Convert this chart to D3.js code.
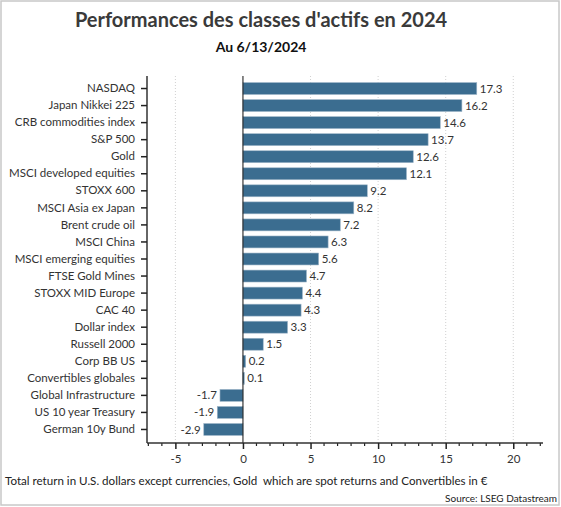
<!DOCTYPE html>
<html><head><meta charset="utf-8">
<script src="https://cdn.jsdelivr.net/npm/d3@7"></script>
<style>
body{margin:0;background:#fff;}
svg{display:block;font-family:Lato,"Open Sans",sans-serif;}
</style></head>
<body><svg id="c" width="561" height="507"></svg>
<script>
const categories = ["NASDAQ","Japan Nikkei 225","CRB commodities index","S&P 500","Gold","MSCI developed equities","STOXX 600","MSCI Asia ex Japan","Brent crude oil","MSCI China","MSCI emerging equities","FTSE Gold Mines","STOXX MID Europe","CAC 40","Dollar index","Russell 2000","Corp BB US","Convertibles globales","Global Infrastructure","US 10 year Treasury","German 10y Bund"];
const values = [17.3,16.2,14.6,13.7,12.6,12.1,9.2,8.2,7.2,6.3,5.6,4.7,4.4,4.3,3.3,1.5,0.2,0.1,-1.7,-1.9,-2.9];
const xTicks = [-5,0,5,10,15,20];
const title = "Performances des classes d'actifs en 2024";
const subtitle = "Au 6/13/2024";
const footnote = "Total return in U.S. dollars except currencies, Gold  which are spot returns and Convertibles in €";
const source = "Source: LSEG Datastream";

const svg = d3.select("#c");
// outer border
svg.append("rect").attr("x",1).attr("y",1).attr("width",558).attr("height",504)
  .attr("fill","#fff").attr("stroke","#c8c8c8").attr("stroke-width",1.5);

const x = d3.scaleLinear().domain([-7.1,22.2]).range([147,543]);
const y = d3.scaleBand().domain(categories).range([80,438]).paddingInner(0.3).paddingOuter(0.15);
const axisY = 443, topY = 76;

// gridlines
svg.append("g").selectAll("line").data(xTicks.filter(d=>d!==0)).join("line")
  .attr("x1",d=>x(d)).attr("x2",d=>x(d)).attr("y1",topY).attr("y2",axisY)
  .attr("stroke","#d0d0d0").attr("stroke-width",1).attr("stroke-dasharray","1,2");

// bars
svg.append("g").selectAll("rect").data(values).join("rect")
  .attr("x",(d)=>x(Math.min(0,d)))
  .attr("y",(d,i)=>y(categories[i]))
  .attr("width",d=>Math.abs(x(d)-x(0)))
  .attr("height",y.bandwidth())
  .attr("fill","#3b6d90").attr("stroke","#9fb6c8").attr("stroke-width",0.6);

// value labels
svg.append("g").selectAll("text").data(values).join("text")
  .attr("x",d=> d>=0 ? x(d)+3 : x(d)-3)
  .attr("y",(d,i)=>y(categories[i])+y.bandwidth()/2)
  .attr("dy","0.35em")
  .attr("text-anchor",d=>d>=0?"start":"end")
  .attr("font-size",11.5).attr("fill","#333")
  .text(d=>d.toFixed(1));

// zero line
svg.append("line").attr("x1",x(0)).attr("x2",x(0)).attr("y1",topY).attr("y2",axisY)
  .attr("stroke","#111").attr("stroke-width",1);

// y axis
const yAxis = d3.axisLeft(y).tickSize(6).tickPadding(6);
const gy = svg.append("g").attr("transform","translate(147,0)").call(yAxis);
gy.select(".domain").attr("d",`M0,${topY}V${axisY}`).attr("stroke","#333").attr("stroke-width",1.5);
gy.selectAll(".tick line").attr("stroke","#222").attr("stroke-width",1.5);
gy.selectAll(".tick text").attr("font-size",11.5).attr("fill","#333").attr("font-family","Lato");

// x axis: minor ticks
const minor = d3.range(-7,23,1).filter(d=>d%5!==0);
svg.append("g").selectAll("line").data(minor).join("line")
  .attr("x1",d=>x(d)).attr("x2",d=>x(d)).attr("y1",axisY).attr("y2",axisY+3)
  .attr("stroke","#222").attr("stroke-width",1.2);
const xAxis = d3.axisBottom(x).tickValues(xTicks).tickSize(6).tickPadding(6).tickFormat(d3.format("d"));
const gx = svg.append("g").attr("transform",`translate(0,${axisY})`).call(xAxis);
gx.select(".domain").attr("d",`M147,0H543`).attr("stroke","#333").attr("stroke-width",1.5);
gx.selectAll(".tick line").attr("stroke","#222").attr("stroke-width",1.5);
gx.selectAll(".tick text").attr("font-size",11.5).attr("fill","#333").attr("font-family","Lato")
  .text(d=>d<0?"-"+Math.abs(d):d);

// titles
svg.append("text").attr("x",261).attr("y",27).attr("text-anchor","middle")
  .attr("font-size",20).attr("font-weight","bold").attr("fill","#3a3a3a").text(title);
svg.append("text").attr("x",261).attr("y",52).attr("text-anchor","middle")
  .attr("font-size",14).attr("font-weight","bold").attr("fill","#111").text(subtitle);
svg.append("text").attr("x",5).attr("y",485).style("white-space","pre")
  .attr("font-size",11.6).attr("fill","#222").text(footnote);
svg.append("text").attr("x",557).attr("y",502).attr("text-anchor","end")
  .attr("font-size",10).attr("fill","#222").text(source);
</script></body></html>
